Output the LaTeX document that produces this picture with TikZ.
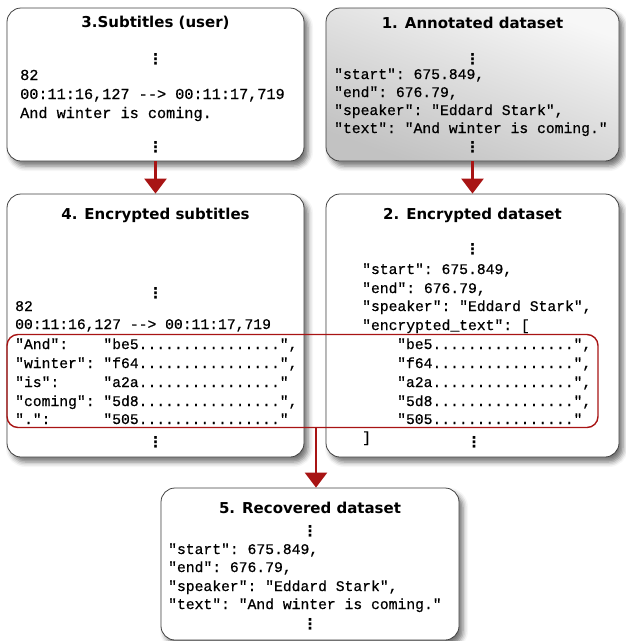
\documentclass[tikz,border=0pt]{standalone}
\usepackage{fontspec}
\newfontfamily\titlefont{DejaVu Sans}
\newfontfamily\codefont{Liberation Mono}[Ligatures=TeXOff, FakeBold=0.6]
\newfontfamily\dotsfont{DejaVu Sans Bold}
\usetikzlibrary{positioning, arrows.meta, shadows.blur}
\definecolor{darkred}{RGB}{168,20,20}
\tikzstyle{panel} = [rectangle, rounded corners=14pt, 
draw=black!75, line width=0.8pt, fill=white, 
blur shadow={shadow xshift=4pt, shadow yshift=-5pt, 
shadow blur radius=5pt, shadow opacity=55}]
\tikzstyle{headline} = [inner sep=0pt, 
font=\titlefont\bfseries\fontsize{15}{17}\selectfont]
\tikzstyle{code} = [anchor=west, inner sep=0pt, text height=10pt, 
text depth=2pt, font=\codefont\frenchspacing\fontsize{14.7}{17}\selectfont]
\tikzstyle{vdot} = [inner sep=0pt, 
font=\dotsfont\fontsize{15}{15}\selectfont]
\tikzstyle{arrow} = [line width=2.6pt, draw=darkred, 
-{Triangle[width=22pt,length=15pt]}]

\begin{document}
\begin{tikzpicture}[x=1pt, y=-1pt]
\useasboundingbox (0,0) rectangle (625,641);

%-------boxes-------------------
\node (sub) [panel, minimum width=297pt, minimum height=153pt] 
at (155.5,84.5) {};
\node (ann) [panel, minimum width=293pt, minimum height=153pt, 
top color=black!3, bottom color=black!24, shading angle=-20] 
at (472.5,84.5) {};
\node (encsub) [panel, minimum width=297pt, minimum height=263pt] 
at (155.5,325.5) {};
\node (encdata) [panel, minimum width=293pt, minimum height=263pt] 
at (472.5,325.5) {};
\node (rec) [panel, minimum width=298pt, minimum height=152pt] 
at (310,564) {};

%-------3. subtitles-------------------
\node (subT) [headline] at (155.5,23) {3.Subtitles (user)};
\node (subD1) [vdot] at (155.5,59) {⋮};
\node (sub1) [code, font=\codefont\frenchspacing\fontsize{15.2}{18}\selectfont] 
at (20,76) {82};
\node (sub2) [code, font=\codefont\frenchspacing\fontsize{15.2}{18}\selectfont] 
at (20,95) {00:11:16,127 --> 00:11:17,719};
\node (sub3) [code, font=\codefont\frenchspacing\fontsize{15.2}{18}\selectfont] 
at (20,114) {And winter is coming.};
\node (subD2) [vdot] at (155.5,147) {⋮};

%-------1. annotated dataset-------------------
\node (annT) [headline] at (472.5,23) {1. Annotated dataset};
\node (annD1) [vdot] at (472.5,59) {⋮};
\node (ann1) [code] at (334,75) {"start": 675.849,};
\node (ann2) [code] at (334,93) {"end": 676.79,};
\node (ann3) [code] at (334,111) {"speaker": "Eddard Stark",};
\node (ann4) [code] at (334,129) {"text": "And winter is coming."};
\node (annD2) [vdot] at (472.5,147) {⋮};

%-------4. encrypted subtitles-------------------
\node (encsubT) [headline] at (155.5,215) {4. Encrypted subtitles};
\node (encsubD1) [vdot] at (155.5,293) {⋮};
\node (encsub1) [code] at (15,307) {82};
\node (encsub2) [code] at (15,325) {00:11:16,127 --> 00:11:17,719};
\node (encsub3) [code] at (15,345) {"And":~~~~"be5................",};
\node (encsub4) [code] at (15,364) {"winter":~"f64................",};
\node (encsub5) [code] at (15,383) {"is":~~~~~"a2a................"};
\node (encsub6) [code] at (15,402) {"coming":~"5d8................",};
\node (encsub7) [code] at (15,420) {".":~~~~~~"505................"};
\node (encsubD2) [vdot] at (155.5,442) {⋮};

%-------2. encrypted dataset-------------------
\node (encdataT) [headline] at (472.5,215) {2. Encrypted dataset};
\node (encdataD1) [vdot] at (472.5,249) {⋮};
\node (encdata1) [code] at (362,270) {"start": 675.849,};
\node (encdata2) [code] at (362,289) {"end": 676.79,};
\node (encdata3) [code] at (362,307) {"speaker": "Eddard Stark",};
\node (encdata4) [code] at (362,326) {"encrypted\_text": [};
\node (encdata5) [code] at (397,345) {"be5................",};
\node (encdata6) [code] at (397,364) {"f64................",};
\node (encdata7) [code] at (397,383) {"a2a................",};
\node (encdata8) [code] at (397,402) {"5d8................",};
\node (encdata9) [code] at (397,420) {"505................"};
\node (encdata10) [code] at (362,438) {]};
\node (encdataD2) [vdot] at (474,442) {⋮};

%-------5. recovered dataset-------------------
\node (recT) [headline] at (310,508) {5. Recovered dataset};
\node (recD1) [vdot] at (310,531) {⋮};
\node (rec1) [code] at (168,550) {"start": 675.849,};
\node (rec2) [code] at (168,568) {"end": 676.79,};
\node (rec3) [code] at (168,587) {"speaker": "Eddard Stark",};
\node (rec4) [code] at (168,605) {"text": "And winter is coming."};
\node (recD2) [vdot] at (310,624) {⋮};

%-------highlight-------------------
\node (hilite) [rectangle, rounded corners=11pt, draw=darkred, 
line width=1.4pt, minimum width=591pt, minimum height=93pt] 
at (302.5,381) {};

%----------arrows----------------
\draw [arrow] (sub) -- (encsub);
\draw [arrow] (ann) -- (encdata);
\draw [arrow] ([xshift=13.5pt]hilite.south) -- 
([xshift=13.5pt]hilite.south |- rec.north);

\end{tikzpicture}
\end{document}
